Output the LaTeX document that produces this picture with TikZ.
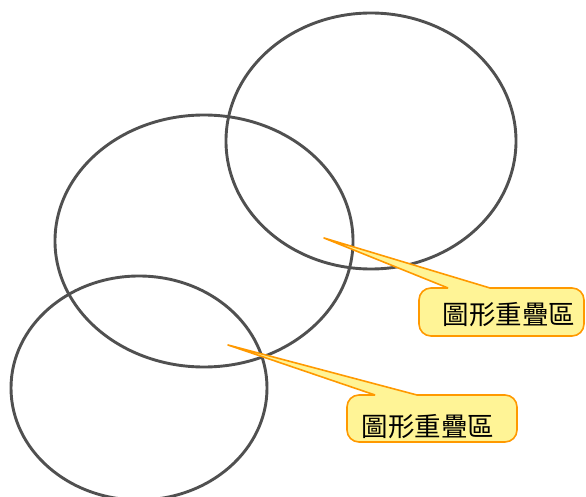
\documentclass[tikz,border=0pt]{standalone}
\usepackage{fontspec}
\newfontfamily\cjk{Noto Sans CJK TC}
\definecolor{ringgray}{RGB}{80,80,80}
\definecolor{callorange}{RGB}{255,153,0}
\definecolor{callfill}{RGB}{255,244,150}
\begin{document}
\begin{tikzpicture}[x=1pt,y=-1pt,
  ring/.style={draw=ringgray,line width=2.9pt},
  callshape/.style={draw=callorange,fill=callfill,line width=1.6pt,line join=round},
  calltext/.style={font=\cjk\fontsize{26.5}{26.5}\selectfont,inner sep=0pt,text=black}]
\useasboundingbox (0,0) rectangle (586,497);
% ellipses
\draw[ring] (371,141) ellipse [x radius=145,y radius=128];
\draw[ring] (204,241) ellipse [x radius=149,y radius=126];
\draw[ring] (139,388) ellipse [x radius=128,y radius=112];
% callout 1
\coordinate (tipA) at (324,238);
\draw[callshape] (448,288) -- (tipA) -- (490,288) [rounded corners=12pt] -- (584,288) -- (584,336) -- (419,336) -- (419,288) -- (448,288);
\node[calltext] (labA) at (509,315) {圖形重疊區};
% callout 2
\coordinate (tipB) at (228,345);
\draw[callshape] (375,395) -- (tipB) -- (417,395) [rounded corners=12pt] -- (517,395) -- (517,442) -- (347,442) -- (347,395) -- (375,395);
\node[calltext] (labB) at (428,427) {圖形重疊區};
\end{tikzpicture}
\end{document}
